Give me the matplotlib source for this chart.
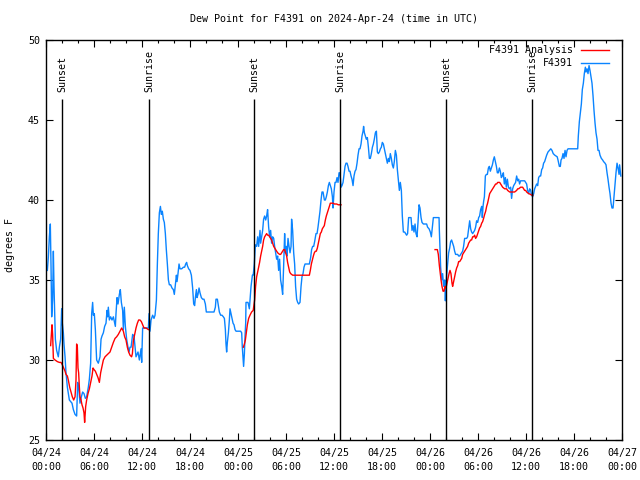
import matplotlib
matplotlib.use("Agg")
import matplotlib.pyplot as plt
import numpy as np

# ---- data (hours since 2024-04-24 00:00 UTC, dew point in degrees F) ----
obs_hours = [
    0.17, 0.29, 0.42, 0.54, 0.63, 0.71, 0.83, 0.92, 1.00, 1.08, 1.17, 1.33, 1.54, 1.67, 1.83, 1.96,
    2.04, 2.17, 2.25, 2.38, 2.50, 2.67, 2.79, 2.92, 3.08, 3.25, 3.42, 3.63, 3.83, 3.96, 4.08, 4.25,
    4.42, 4.58, 4.75, 4.92, 5.08, 5.29, 5.42, 5.58, 5.71, 5.83, 5.92, 6.04, 6.17, 6.33, 6.54, 6.75,
    6.88, 7.00, 7.17, 7.33, 7.50, 7.63, 7.71, 7.79, 7.92, 8.08, 8.25, 8.42, 8.67, 8.75, 8.88, 9.00,
    9.17, 9.29, 9.42, 9.58, 9.67, 9.79, 9.92, 10.08, 10.25, 10.38, 10.50,
    10.63, 10.83, 11.00, 11.25, 11.50, 11.67, 11.88, 11.96, 12.08, 12.38, 12.80, 12.88, 13.00, 13.13,
    13.33, 13.50, 13.63, 13.80, 13.92, 14.04, 14.17, 14.30, 14.42, 14.54, 14.67, 14.79, 14.92, 15.04,
    15.17, 15.30, 15.42, 15.58, 15.75, 15.92, 16.04, 16.17, 16.30, 16.38, 16.50, 16.63, 16.75, 16.96,
    17.17, 17.33, 17.46, 17.58, 17.67, 17.83, 18.00, 18.17, 18.33, 18.46, 18.58, 18.67, 18.80, 18.88,
    19.00, 19.13, 19.25, 19.42, 19.58, 19.75, 19.92, 20.04, 20.29, 20.50, 20.75, 21.00, 21.17, 21.25,
    21.42, 21.54, 21.67, 21.83, 22.00, 22.17, 22.30, 22.42, 22.50, 22.58, 22.67, 22.80, 22.92, 23.00,
    23.13, 23.25, 23.38, 23.50, 23.63, 23.75, 23.92, 24.33, 24.46, 24.54, 24.63, 24.70, 24.80, 24.88,
    24.96,
    25.00, 25.25, 25.42, 25.63, 25.80, 25.90, 26.04, 26.17, 26.33, 26.46, 26.58, 26.75, 26.83, 26.96,
    27.08, 27.20, 27.33, 27.46, 27.58, 27.70, 27.83, 27.96, 28.08, 28.20, 28.33, 28.46, 28.58, 28.70,
    28.83, 28.96, 29.08, 29.20, 29.33, 29.46, 29.58, 29.70, 29.83, 29.92, 30.04, 30.13, 30.25, 30.38,
    30.50, 30.63, 30.70, 30.83, 30.96, 31.08, 31.20, 31.33, 31.46, 31.58, 31.75, 31.88, 32.00, 32.13,
    32.25, 32.38, 32.58, 32.75, 32.92, 33.08, 33.20, 33.33, 33.46, 33.58, 33.75, 33.88, 34.00, 34.13,
    34.25, 34.38, 34.50, 34.63, 34.80, 34.92, 35.04, 35.17, 35.30, 35.42, 35.55, 35.67, 35.80, 35.88,
    36.00, 36.13, 36.25, 36.38, 36.50, 36.63, 36.75, 36.88, 37.00, 37.13, 37.25, 37.38, 37.50, 37.63,
    37.75, 37.88, 38.00, 38.13, 38.25, 38.38, 38.50, 38.63, 38.75, 38.88, 39.00, 39.13, 39.25, 39.38,
    39.50, 39.63, 39.70, 39.80, 39.92, 40.04, 40.17, 40.30, 40.42, 40.54, 40.67, 40.80, 40.92, 41.04,
    41.17, 41.30, 41.42, 41.54, 41.67, 41.80, 41.92, 42.04, 42.17, 42.30, 42.42, 42.54, 42.67, 42.80,
    42.92, 43.04, 43.17, 43.29, 43.42, 43.54, 43.67, 43.80, 43.92, 44.04, 44.17, 44.29, 44.42, 44.54,
    44.67, 44.83, 44.96, 45.08, 45.20, 45.33, 45.50, 45.63, 45.75, 45.88, 46.00, 46.13, 46.25, 46.38,
    46.50, 46.63,
    46.75, 46.88, 47.00, 47.17, 47.58, 47.70, 47.88, 48.04, 48.17, 48.30, 48.42, 49.13, 49.17, 49.25,
    49.33, 49.46, 49.58, 49.67, 49.75, 49.83, 49.92, 50.00, 50.08, 50.20, 50.33, 50.46, 50.58, 50.70,
    50.83, 50.96, 51.08, 51.20, 51.46, 51.58, 51.71, 51.83, 51.96, 52.08, 52.20, 52.33, 52.58, 52.70,
    52.83, 52.96, 53.08, 53.20, 53.33, 53.46, 53.58, 53.70, 53.83, 53.96, 54.08, 54.20, 54.33, 54.46,
    54.54, 54.63, 54.70, 54.80, 54.92, 55.04, 55.17, 55.30, 55.42, 55.54, 55.67, 55.80, 55.92, 56.04,
    56.17, 56.30, 56.42, 56.54, 56.67, 56.79, 56.92, 57.04, 57.17, 57.29, 57.42, 57.54, 57.67, 57.80,
    57.92, 58.08, 58.20, 58.33, 58.46, 58.58, 58.70, 58.83, 58.96, 59.08, 59.20, 59.33, 59.83, 60.08,
    60.20, 60.33, 60.46, 60.58, 60.70, 60.83, 60.96, 61.08, 61.33, 61.46, 61.58, 61.70, 61.83, 61.96,
    62.08, 62.20, 62.33, 62.46, 62.58, 62.75, 62.92,
    63.10, 63.25, 63.40, 63.60, 63.90, 64.00, 64.17, 64.29, 64.38, 64.50, 64.63, 64.75, 64.88, 65.00,
    65.13, 65.25, 66.46, 66.54, 66.67, 66.80, 66.92, 67.04, 67.17, 67.29, 67.42, 67.50, 67.63, 67.75,
    67.88, 68.00, 68.13, 68.25, 68.38, 68.50, 68.63, 68.75, 68.88, 69.00, 69.13, 69.25, 69.42, 69.58,
    69.70, 69.88, 70.00, 70.13, 70.25, 70.38, 70.50, 70.63, 70.75, 70.88, 71.00, 71.13, 71.25, 71.38,
    71.50, 71.63, 71.70, 71.85,
]
obs_values = [
    35.6, 36.4, 37.7, 38.5, 35.8, 32.7, 33.8, 36.8, 34.6, 33.1, 31.3, 30.6, 30.2, 30.8, 31.3, 33.2,
    32.3, 31.7, 31.0, 30.2, 29.2, 28.3, 27.9, 27.5, 27.4, 27.3, 26.9, 26.6, 26.5, 28.6, 28.3, 27.3,
    27.7, 28.0, 27.9, 27.6, 27.7, 28.3, 28.8, 29.8, 32.9, 33.6, 32.8, 32.9, 31.9, 30.0, 29.8, 30.2,
    31.3, 31.5, 31.7, 32.1, 32.3, 33.1, 32.7, 33.3, 32.5, 32.7, 32.5, 32.7, 32.1, 32.9, 33.9, 33.5,
    34.1, 34.4, 33.6, 33.1, 31.9, 33.3, 32.1, 31.3, 30.8, 30.5, 30.8,
    30.8, 31.6, 31.5, 30.2, 30.5, 30.0, 30.7, 29.85, 32.0, 32.0, 32.0, 32.9, 31.8, 32.5,
    32.8, 32.6, 32.8, 33.75, 36.0, 37.9, 39.2, 39.6, 39.1, 39.3, 38.8, 38.6, 37.9, 36.9,
    36.0, 35.0, 34.7, 34.7, 34.5, 34.4, 34.1, 34.7, 35.3, 34.9, 35.4, 36.0, 35.7, 35.7,
    35.8, 35.8, 36.0, 36.1, 35.9, 35.7, 35.6, 35.3, 34.5, 33.5, 33.4, 33.9, 34.4, 33.9,
    34.1, 34.5, 34.2, 33.9, 33.8, 33.8, 33.5, 33.0, 33.0, 33.0, 33.0, 33.0, 33.3, 33.8,
    33.8, 33.4, 33.0, 32.8, 32.8, 32.7, 32.6, 31.9, 31.0, 30.5, 31.1, 31.7, 32.5, 33.2,
    32.9, 32.6, 32.3, 32.2, 31.9, 31.8, 31.8, 31.8, 31.7, 30.8, 30.1, 29.6, 30.4, 31.5,
    32.3,
    33.6, 33.6, 33.2, 34.6, 35.3, 35.3, 36.0, 37.2, 37.1, 37.7, 37.1, 38.1, 37.3, 37.7,
    38.1, 38.8, 39.0, 38.75, 39.0, 39.4, 38.3, 37.7, 38.1, 37.3, 37.7, 37.6, 37.1, 36.7,
    36.3, 36.5, 35.6, 36.3, 35.0, 34.6, 34.1, 35.8, 37.9, 36.7, 37.1, 36.5, 37.6, 37.1,
    36.7, 37.1, 38.8, 38.1, 36.7, 36.0, 34.6, 33.8, 33.6, 33.5, 33.6, 34.6, 35.2, 35.4,
    35.8, 36.0, 36.0, 36.0, 36.0, 36.4, 36.9, 37.1, 37.1, 37.4, 37.9, 37.9, 38.3, 38.8,
    39.3, 40.0, 40.5, 40.5, 40.0, 40.0, 40.2, 40.5, 40.9, 41.1, 40.9, 40.7, 40.2, 39.5,
    40.5, 41.1, 41.1, 41.4, 41.1, 41.7, 41.7, 40.8, 40.9, 41.1, 41.6, 42.1, 42.3, 42.3,
    42.1, 41.8, 41.8, 41.5, 41.3, 40.9, 41.5, 41.8, 41.9, 42.3, 42.8, 43.2, 43.2, 43.5,
    44.0, 44.3, 44.6, 44.2, 44.0, 43.8, 43.9, 43.3, 42.6, 42.6, 42.9, 43.3, 43.5, 43.8,
    44.2, 44.3, 43.0, 42.9, 43.0, 43.2, 43.3, 43.6, 43.5, 43.2, 42.9, 42.6, 42.3, 42.6,
    42.4, 42.9, 42.6, 42.2, 42.0, 42.4, 43.1, 42.8, 41.9, 41.3, 40.6, 41.1, 40.6, 39.0,
    38.0, 38.0, 37.9, 37.8, 37.9, 38.9, 38.9, 38.9, 38.1, 38.4, 38.0, 38.5, 37.9, 37.7,
    38.6, 39.7,
    39.5, 38.9, 38.6, 38.5, 38.5, 38.3, 38.2, 38.0, 37.7, 38.3, 38.9, 38.9, 38.1, 36.9,
    35.8, 35.0, 35.4, 34.8, 34.6, 35.0, 33.7, 34.6, 35.3, 36.0, 36.7, 37.0, 37.4, 37.5,
    37.3, 37.1, 36.8, 36.6, 36.6, 36.5, 36.5, 36.6, 36.7, 36.8, 37.1, 37.6, 37.6, 37.7,
    38.2, 38.7, 38.2, 38.0, 37.9, 38.0, 38.1, 38.3, 38.7, 38.6, 38.9, 39.0, 39.4, 39.6,
    38.9, 39.6, 39.9, 40.2, 41.5, 41.6, 41.6, 42.0, 42.1, 41.8, 42.0, 42.2, 42.5, 42.7,
    42.4, 42.1, 41.7, 41.7, 42.0, 41.8, 41.4, 41.5, 41.7, 41.0, 41.4, 40.8, 41.3, 40.8,
    40.7, 40.8, 40.1, 40.7, 40.9, 41.0, 41.1, 41.5, 41.2, 41.3, 41.0, 41.2, 41.2, 41.0,
    40.6, 40.4, 40.7, 40.6, 40.3, 40.2, 40.4, 40.7, 41.0, 40.9, 41.4, 41.5, 41.5, 41.9,
    42.0, 42.3, 42.4, 42.6, 42.8, 43.0, 43.1,
    43.2, 43.1, 42.9, 42.8, 42.7, 42.5, 42.1, 42.1, 42.5, 42.6, 42.9, 42.6, 43.1, 42.7,
    43.1, 43.2, 43.2, 44.0, 44.9, 45.5, 46.0, 46.9, 47.3, 47.9, 48.3, 48.0, 48.2, 47.9,
    48.4, 48.1, 47.7, 47.3, 46.5, 45.6, 44.8, 44.2, 43.8, 43.1, 43.1, 42.8, 42.6, 42.5,
    42.4, 42.3, 42.2, 41.7, 41.3, 40.8, 40.4, 39.8, 39.5, 39.5, 40.2, 41.0, 41.7, 42.3,
    42.0, 41.6, 42.2, 41.5,
]

nan = float("nan")
ana_hours = [
    0.58, 0.67, 0.75, 0.83, 0.92, 1.13, 1.42, 1.67, 1.88, 2.04, 2.21, 2.38, 2.50, 2.67, 2.79, 2.96,
    3.13, 3.29, 3.46, 3.63, 3.75, 3.83, 3.92, 4.00, 4.08, 4.17, 4.25, 4.38, 4.50, 4.63, 4.75, 4.83,
    4.96, 5.08, 5.25, 5.42, 5.58, 5.75, 5.88, 6.00, 6.17, 6.33, 6.50, 6.67, 6.83, 7.00, 7.17, 7.38,
    7.58, 7.79, 8.00, 8.21, 8.42, 8.63, 8.83, 9.04, 9.25, 9.46, 9.67, 9.83, 10.00, 10.17, 10.33, 10.50,
    10.70, 10.80, 10.92, 11.08, 11.25, 11.42, 11.58, 11.75, 11.92, 12.08, 12.25, 12.50, 12.80,
    nan,
    24.67, 24.80, 24.92, 25.04, 25.17, 25.33, 25.50, 25.70, 25.90, 26.08, 26.20, 26.33, 26.46, 26.58,
    26.70, 26.83, 26.96, 27.08, 27.20, 27.33, 27.46, 27.58, 27.70, 27.83, 27.96, 28.08, 28.20, 28.33,
    28.46, 28.58, 28.70, 28.83, 28.96, 29.08, 29.20, 29.33, 29.46, 29.58, 29.70, 29.83, 29.96, 30.08,
    30.20, 30.33, 30.46, 30.58, 30.83, 31.00, 32.92, 33.04, 33.17, 33.29, 33.42, 33.54, 33.67, 33.79,
    33.92, 34.04, 34.17, 34.29, 34.42, 34.54, 34.67, 34.79, 34.92, 35.04, 35.17, 35.29, 35.42, 35.54,
    35.67, 35.92, 36.04, 36.33, 36.54, 36.88,
    nan,
    48.63, 48.92, 49.04, 49.17, 49.29, 49.38, 49.50, 49.63, 49.75, 49.88, 50.00, 50.13, 50.25, 50.38,
    50.50, 50.62, 50.75, 50.83, 50.96, 51.08, 51.20, 51.33, 51.46, 51.58, 51.71, 51.83, 51.96, 52.08,
    52.20, 52.33, 52.46, 52.58, 52.70, 52.83, 52.96, 53.08, 53.20, 53.33, 53.46, 53.58, 53.70, 53.83,
    53.96, 54.08, 54.20, 54.33, 54.46, 54.58, 54.70, 54.83, 54.96, 55.08, 55.20, 55.33, 55.46, 55.58,
    55.70, 55.83, 55.96, 56.08, 56.20, 56.33, 56.46, 56.58, 56.71, 56.83, 56.96, 57.08, 57.33, 57.58,
    57.70, 57.96, 58.58, 58.70, 58.83, 58.96, 59.08, 59.33, 59.58, 59.70, 59.83, 59.96, 60.08, 60.20,
    60.33, 60.58, 60.70, 60.85,
]
ana_values = [
    30.9, 31.6, 32.2, 31.6, 30.1, 30.0, 29.9, 29.85, 29.85, 29.7, 29.5, 29.3, 29.1, 29.0, 28.75, 28.3,
    28.0, 27.7, 27.5, 27.7, 28.75, 31.0, 30.8, 29.5, 29.2, 28.3, 27.7, 27.5, 27.2, 27.0, 26.7, 26.1,
    27.1, 27.5, 27.9, 28.2, 28.6, 29.0, 29.5, 29.4, 29.3, 29.1, 28.9, 28.6, 29.2, 29.6, 30.0, 30.2,
    30.3, 30.4, 30.5, 30.8, 31.1, 31.35, 31.45, 31.6, 31.8, 32.0, 31.8, 31.45, 31.25, 30.8, 30.5, 30.3,
    30.2, 30.4, 31.2, 31.6, 32.0, 32.3, 32.5, 32.5, 32.4, 32.2, 32.0, 32.0, 31.9,
    nan,
    30.8, 31.0, 31.25, 31.7, 32.2, 32.6, 32.8, 33.0, 33.1, 33.75, 34.6, 35.2, 35.5, 35.8,
    36.1, 36.5, 36.8, 37.1, 37.5, 37.7, 37.8, 37.9, 37.8, 37.8, 37.7, 37.6, 37.5, 37.3,
    37.1, 37.0, 36.9, 36.8, 36.7, 36.65, 36.6, 36.6, 36.7, 36.8, 36.9, 36.9, 36.7, 36.5,
    36.1, 35.8, 35.5, 35.4, 35.3, 35.3, 35.3, 35.6, 36.0, 36.25, 36.5, 36.7, 36.8, 36.8,
    37.0, 37.3, 37.6, 37.9, 38.0, 38.2, 38.3, 38.4, 38.75, 39.0, 39.2, 39.4, 39.6, 39.8,
    39.8, 39.8, 39.75, 39.75, 39.7, 39.7,
    nan,
    36.9, 36.9, 36.6, 35.9, 35.4, 35.0, 34.6, 34.3, 34.3, 34.6, 34.5, 34.8, 35.1, 35.4,
    35.6, 35.4, 34.8, 34.6, 34.9, 35.2, 35.5, 35.75, 35.9, 36.15, 36.15, 36.25, 36.35, 36.6,
    36.7, 36.8, 36.9, 37.0, 37.1, 37.3, 37.4, 37.5, 37.5, 37.7, 37.7, 37.8, 37.6, 37.7,
    37.9, 38.1, 38.25, 38.35, 38.55, 38.65, 38.85, 39.1, 39.3, 39.6, 39.8, 40.1, 40.4, 40.5,
    40.6, 40.7, 40.8, 40.9, 41.0, 41.0, 41.1, 41.1, 41.1, 41.0, 40.9, 40.8, 40.7, 40.7,
    40.6, 40.5, 40.5, 40.55, 40.6, 40.7, 40.7, 40.8, 40.8, 40.7, 40.6, 40.6, 40.5, 40.45,
    40.4, 40.35, 40.3, 40.3,
]

sun_events = ["Sunset", "Sunrise", "Sunset", "Sunrise", "Sunset", "Sunrise"]
sun_hours = [2.0, 12.92, 26.03, 36.8, 50.05, 60.8]

tick_hours = list(range(0, 73, 6))
tick_labels = [
    "04/24\n00:00", "04/24\n06:00", "04/24\n12:00", "04/24\n18:00",
    "04/25\n00:00", "04/25\n06:00", "04/25\n12:00", "04/25\n18:00",
    "04/26\n00:00", "04/26\n06:00", "04/26\n12:00", "04/26\n18:00",
    "04/27\n00:00",
]

title = "Dew Point for F4391 on 2024-Apr-24 (time in UTC)"
ylabel = "degrees F"
name_analysis = "F4391 Analysis"
name_obs = "F4391"

# ---- drawing ----
FONT = "DejaVu Sans Mono"
FS = 7.2
plt.rcParams["font.family"] = [FONT]
plt.rcParams["font.size"] = FS

RED = "#ff0000"
BLUE = "#0a84ff"

fig = plt.figure(figsize=(6.4, 4.8), dpi=100)
ax = fig.add_axes([46 / 640, 1 - 440 / 480, 576 / 640, 400 / 480])

ax.plot(ana_hours, ana_values, color=RED, lw=1.0, zorder=3)
ax.plot(obs_hours, obs_values, color=BLUE, lw=1.0, zorder=2)

ax.set_xlim(0, 72)
ax.set_ylim(25, 50)

label_val = 46.75
line_top = 46.3
for name, h in zip(sun_events, sun_hours):
    ax.vlines(h, 25, line_top, color="black", lw=1.0, zorder=4)
    ax.text(h, label_val, name, rotation=90, ha="center", va="bottom",
            fontsize=FS, family=FONT, zorder=5)

ax.set_xticks(tick_hours)
ax.set_xticklabels(tick_labels, linespacing=1.6)
ax.set_xticks(np.arange(0, 73, 2), minor=True)
ax.set_yticks(np.arange(25, 51, 5))

ax.tick_params(axis="both", which="major", direction="in", top=True, right=True,
               length=5, width=0.8, labelsize=FS, pad=4.3)
ax.tick_params(axis="x", which="minor", direction="in", top=True, length=2.3, width=0.8)
ax.tick_params(axis="x", which="major", pad=5.5)
for s in ax.spines.values():
    s.set_linewidth(1.0)

fig.text(334 / 640, 1 - 19 / 480, title, ha="center", va="center", fontsize=FS, family=FONT)
fig.text(10 / 640, 1 - 245 / 480, ylabel, rotation=90, ha="center", va="center",
         fontsize=FS, family=FONT)

# legend (top right, text right-aligned before the sample line)
for (lab, col, yf) in [(name_analysis, RED, 0.975), (name_obs, BLUE, 0.9425)]:
    ax.text(0.915, yf, lab, transform=ax.transAxes, ha="right", va="center",
            fontsize=FS, family=FONT, zorder=6)
    ax.plot([0.929, 0.977], [yf, yf], transform=ax.transAxes, color=col, lw=1.0,
            zorder=6, clip_on=False)

fig.savefig("out.png", dpi=100)
